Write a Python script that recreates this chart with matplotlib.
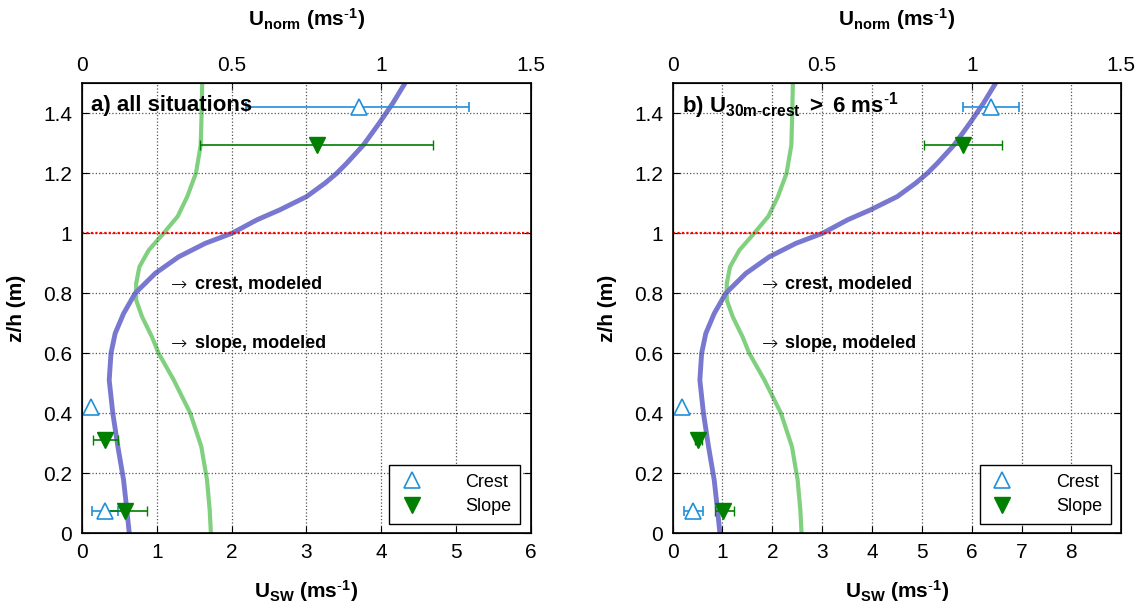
import matplotlib
matplotlib.use('Agg')
import matplotlib.pyplot as plt
from matplotlib.transforms import offset_copy

plt.rcParams['font.family'] = ['Liberation Sans', 'DejaVu Sans']
plt.rcParams['mathtext.fontset'] = 'custom'
plt.rcParams['mathtext.rm'] = 'Liberation Sans'
plt.rcParams['mathtext.bf'] = 'Liberation Sans:bold'
plt.rcParams['mathtext.it'] = 'Liberation Sans:italic'

# modeled profiles (normalised speed, top axis)
z_crest_model = [1.5, 1.433, 1.367, 1.294, 1.233, 1.2, 1.167, 1.122, 1.078, 1.044, 1.0,
                 0.966, 0.921, 0.866, 0.8, 0.732, 0.666, 0.6, 0.51, 0.4, 0.288, 0.177, 0.077, 0.0]
crest_model = [1.080, 1.039, 0.994, 0.941, 0.885, 0.852, 0.813, 0.751, 0.662, 0.584, 0.502,
               0.412, 0.323, 0.245, 0.178, 0.139, 0.111, 0.097, 0.091, 0.103, 0.120, 0.139, 0.150, 0.158]
z_slope_model = [1.5, 1.4, 1.294, 1.2, 1.122, 1.056, 1.0, 0.943, 0.888, 0.832, 0.777,
                 0.721, 0.654, 0.6, 0.51, 0.4, 0.288, 0.177, 0.077, 0.0]
slope_model = [0.402, 0.400, 0.397, 0.381, 0.352, 0.320, 0.273, 0.223, 0.192, 0.181, 0.181,
               0.201, 0.234, 0.256, 0.307, 0.362, 0.399, 0.418, 0.427, 0.431]

# observations (U_SW, bottom axis)
panels = ['a', 'b']
crest_z = [1.42, 0.42, 0.075]
slope_z = [1.295, 0.31, 0.075]
crest_u = {'a': [3.70, 0.125, 0.31], 'b': [6.39, 0.18, 0.41]}
crest_lo = {'a': [2.20, 0.125, 0.13], 'b': [5.83, 0.18, 0.23]}
crest_hi = {'a': [5.18, 0.125, 0.48], 'b': [6.94, 0.18, 0.61]}
slope_u = {'a': [3.14, 0.31, 0.58], 'b': [5.82, 0.51, 1.01]}
slope_lo = {'a': [1.58, 0.15, 0.29], 'b': [5.04, 0.45, 0.85]}
slope_hi = {'a': [4.70, 0.48, 0.87], 'b': [6.60, 0.58, 1.23]}

xmax = {'a': 6.0, 'b': 9.0}
xticks = {'a': [0, 1, 2, 3, 4, 5, 6], 'b': [0, 1, 2, 3, 4, 5, 6, 7, 8]}
titles = {'a': 'a) all situations',
          'b': r'$\mathbf{b)\ U_{30m\text{-}crest}\ >\ 6\ ms^{\text{-}1}}$'}
ref_height = 1.0
model_labels = [('crest, modeled', 0.83), ('slope, modeled', 0.632)]

c_crest = '#2090d8'
c_slope = '#007f00'
c_crest_mod = '#7878d0'
c_slope_mod = '#80d080'

fig = plt.figure(figsize=(11.42, 6.12), dpi=100)
lefts = [0.0718, 0.589]

for p, left in zip(panels, lefts):
    ax = fig.add_axes([left, 0.129, 0.3928, 0.735])
    axt = ax.twiny()

    # modeled curves on the normalised axis
    axt.plot(slope_model, z_slope_model, color=c_slope_mod, lw=3, solid_joinstyle='round')
    axt.plot(crest_model, z_crest_model, color=c_crest_mod, lw=3.5, solid_joinstyle='round')
    axt.set_xlim(0, 1.5)
    axt.set_xticks([0, 0.5, 1, 1.5])
    axt.set_xticklabels(['0', '0.5', '1', '1.5'])
    axt.tick_params(direction='in', length=5, labelsize=15, pad=6)
    axt.set_xlabel(r'$\mathbf{U_{norm}\ (ms^{\text{-}1})}$', fontsize=15, labelpad=22)
    for txt, zt in model_labels:
        axt.text(0.298, zt, '\u2192', fontsize=14, family='DejaVu Sans',
                 fontweight='light', va='center')
        tr = offset_copy(axt.transData, fig=fig, x=17, y=0, units='points')
        axt.text(0.298, zt, txt, fontsize=13, fontweight='bold', va='center',
                 transform=tr)

    # observations on the bottom axis, drawn above the curves
    ax.set_zorder(axt.get_zorder() + 1)
    ax.patch.set_visible(False)
    ax.axhline(ref_height, color='red', ls=(0, (1, 1)), lw=1.6)
    cx = crest_u[p]
    sx = slope_u[p]
    c_err = [[a - b for a, b in zip(cx, crest_lo[p])], [b - a for a, b in zip(cx, crest_hi[p])]]
    s_err = [[a - b for a, b in zip(sx, slope_lo[p])], [b - a for a, b in zip(sx, slope_hi[p])]]
    eb_c = ax.errorbar(cx, crest_z, xerr=c_err, fmt='^', color=c_crest, mfc='white',
                       mec=c_crest, ms=11, mew=1.2, elinewidth=1.2, capsize=3.5)
    eb_s = ax.errorbar(sx, slope_z, xerr=s_err, fmt='v', color=c_slope, mfc=c_slope,
                       mec=c_slope, ms=11, elinewidth=1.2, capsize=3.5)

    ax.set_xlim(0, xmax[p])
    ax.set_ylim(0, 1.5)
    ax.set_xticks(xticks[p])
    ax.set_yticks([0, 0.2, 0.4, 0.6, 0.8, 1.0, 1.2, 1.4])
    ax.set_yticklabels(['0', '0.2', '0.4', '0.6', '0.8', '1', '1.2', '1.4'])
    ax.tick_params(direction='in', length=5, labelsize=15, right=True, pad=7)
    ax.grid(True, color='#555555', ls=':', lw=0.9)
    ax.set_xlabel(r'$\mathbf{U_{SW}\ (ms^{\text{-}1})}$', fontsize=15, labelpad=12)
    ax.set_ylabel('z/h (m)', fontsize=15, fontweight='bold', labelpad=12)
    ax.text(0.02, 0.95, titles[p], transform=ax.transAxes, fontsize=16,
            fontweight='bold', va='center', ha='left')

    leg = ax.legend([eb_c[0], eb_s[0]], ['Crest', 'Slope'], loc='lower right',
                    bbox_to_anchor=(0.977, 0.02), fontsize=13,
                    fancybox=False, edgecolor='black', framealpha=1,
                    handlelength=1.5, handletextpad=2.2, borderpad=0.5,
                    labelspacing=0.4, borderaxespad=0)
    leg.get_frame().set_linewidth(1.0)
    for s in ax.spines.values():
        s.set_linewidth(1.2)

fig.savefig('out.png', dpi=100)
